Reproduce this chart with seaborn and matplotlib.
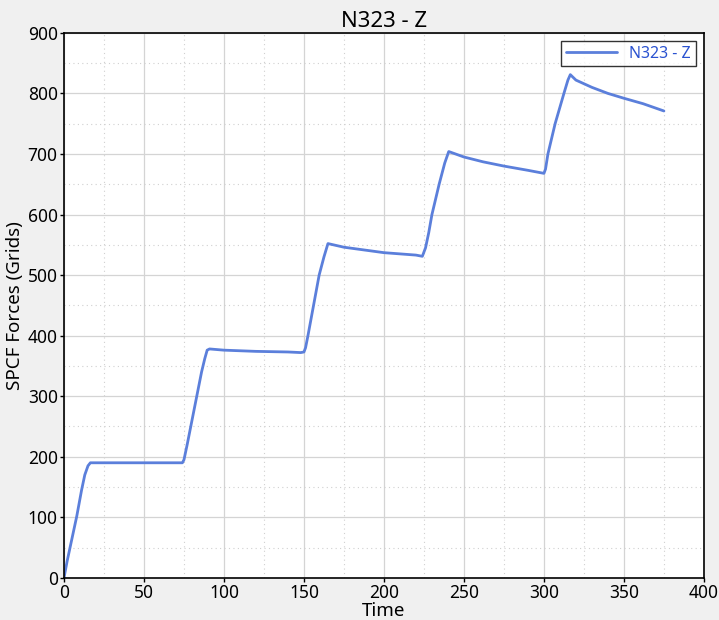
import numpy as np
import pandas as pd
import matplotlib.pyplot as plt
from matplotlib.ticker import MultipleLocator
import seaborn as sns

# values
time = [0, 2, 5, 8, 11, 13, 15, 16.5, 18, 30, 50, 70, 74, 75, 77, 80, 83, 86, 88, 89.5, 91,
        100, 120, 140, 148, 150, 151, 152.5, 156, 159.5, 162.5, 165,
        175, 200, 220, 224, 226, 228, 230, 234.5, 238, 240.5,
        250, 262, 275, 290, 300, 301, 302.5, 307, 312.5, 315, 316.5,
        320, 330, 340, 350, 362, 375]
force = [0, 28, 65, 102, 145, 170, 185, 190, 190, 190, 190, 190, 190, 195, 220, 260, 300, 340, 362, 376, 378,
         376, 374, 373, 372, 373, 380, 400, 450, 500, 530, 552,
         546, 537, 533, 531, 545, 570, 600, 650, 685, 704,
         695, 687, 680, 673, 668, 675, 700, 750, 800, 822, 831,
         822, 810, 800, 792, 783, 771]
series_name = "N323 - Z"

df = pd.DataFrame({"Time": time, "Force": force})

sns.set_style("white")
plt.rcParams["font.family"] = ["Noto Sans", "DejaVu Sans"]
plt.rcParams["text.color"] = "black"
plt.rcParams["axes.labelcolor"] = "black"

fig = plt.figure(figsize=(7.19, 6.2), dpi=100, facecolor="#f0f0f0")
ax = fig.add_axes([0.089, 0.068, 0.890, 0.879])
ax.set_facecolor("white")

sns.lineplot(data=df, x="Time", y="Force", ax=ax, color="#5b7fdb",
             linewidth=2.0, label=series_name)

ax.set_xlim(0, 400)
ax.set_ylim(0, 900)
ax.xaxis.set_major_locator(MultipleLocator(50))
ax.xaxis.set_minor_locator(MultipleLocator(25))
ax.yaxis.set_major_locator(MultipleLocator(100))
ax.yaxis.set_minor_locator(MultipleLocator(50))
ax.grid(which="major", color="#d4d4d4", linewidth=0.9, linestyle="-")
ax.grid(which="minor", color="#d0d0d0", linewidth=0.8, linestyle=(0, (1, 3)))
ax.set_axisbelow(True)

for s in ax.spines.values():
    s.set_color("black")
    s.set_linewidth(1.2)
ax.tick_params(axis="both", which="major", direction="out", length=3, width=1,
               labelsize=12.5, colors="black", left=True, bottom=True, pad=1.5)
ax.tick_params(which="minor", length=0)

ax.set_xlabel("Time", fontsize=13.5, labelpad=0)
ax.set_ylabel("SPCF Forces (Grids)", fontsize=13.5, labelpad=3)
ax.set_title(series_name, fontsize=16, pad=4, color="black")

leg = ax.legend(loc="upper right", fontsize=11.5, frameon=True, fancybox=False,
                borderaxespad=0.5, handlelength=3.2, borderpad=0.3)
leg.get_frame().set_edgecolor("black")
leg.get_frame().set_linewidth(1.0)
for t in leg.get_texts():
    t.set_color("#2a52d0")

fig.savefig("out.png", dpi=100, facecolor=fig.get_facecolor())
